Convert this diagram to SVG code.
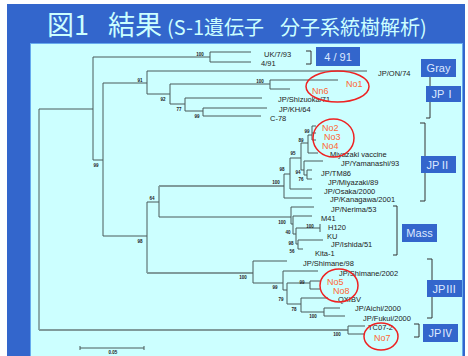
<svg xmlns="http://www.w3.org/2000/svg" width="468" height="356" viewBox="0 0 468 356">
<style>
.t{fill:none;stroke:#4a5a5a;stroke-width:1}
.k{fill:none;stroke:#7f9b9b;stroke-width:1.8}
.br{fill:none;stroke:#333;stroke-width:1}
.lf{font-family:"Liberation Sans",Arial,sans-serif;font-size:7.5px;fill:#222}
.bs{font-family:"Liberation Sans",Arial,sans-serif;font-size:4.5px;font-weight:bold;fill:#222;text-anchor:middle}
.rd{font-family:"Liberation Sans",Arial,sans-serif;font-size:9px;fill:#ff6633}
.ov{fill:none;stroke:#ee2222;stroke-width:1.5}
.bx{fill:#3366cc}
.bt{font-family:"Liberation Sans","Noto Sans CJK JP",sans-serif;font-size:11px;fill:#dde8ff;text-anchor:middle}
.ti{font-family:"Noto Sans CJK JP",sans-serif;fill:#ccffff}
</style>
<rect x="7" y="4" width="458" height="352" fill="#3366cc"/>
<rect x="30.5" y="43.5" width="432" height="313" fill="#ccffff" stroke="#66aaee" stroke-width="1"/>
<g id="title">
<text class="ti" x="47" y="35" font-size="27">図1</text>
<text class="ti" x="108" y="35" font-size="27">結果</text>
<text class="ti" x="167" y="35" font-size="20">(S-1遺伝子</text>
<text class="ti" x="280" y="35" font-size="20">分子系統樹解析)</text>
</g>
<g id="connectors">
<path class="t" d="M39,109 V330 M39,109 H93 M93,57 V160 H103 M93,57 H210 M210,52 V62 M210,52 H251 M210,62 H251"/>
<path class="t" d="M103,83 V236 H147 M103,83 H147 M147,71 V94 M147,71 H367 M147,94 H170 M170,84 V104 M170,84 H270 M270,80 V89 M270,80 H338 M270,89 H290 M170,104 H185 M185,98 V111 M185,98 H262 M185,111 H203 M203,108 V116 M203,108 H267 M203,116 H261"/>
<path class="t" d="M147,202 V273 M147,202 H159 M159,186 V217 M159,217 H291"/>
<path class="k" d="M159,186 H284 M147,273 H253 M39,330 H348"/>
<path class="t" d="M348,326 V334 M348,326 H365 M348,334 H365"/>
<path class="t" d="M284,174 V198 M284,198 H312 M284,174 H290 M290,158 V189 M290,189 H312 M290,158 H301 M301,143 V170 M301,143 H308 M301,170 H304 M304,161 V175 M304,161 H323 M304,175 H307 M307,170 V179 M307,170 H312 M307,179 H312 M308,135 V153 M308,153 H318 M308,135 H312 M312,126 V140 M312,126 H316 M312,133 H316 M312,140 H316"/>
<path class="t" d="M291,207 V224 M291,207 H314 M291,224 H293 M293,216 V234 M293,216 H312 M293,234 H296 M296,228 V244 M296,228 H320 M320,224 V232 M296,244 H298 M298,240 V249 M298,240 H323 M298,249 H303"/>
<path class="t" d="M253,261 V283 M253,261 H287 M253,283 H283 M283,271 V290 M283,271 H318 M283,290 H287 M287,283 V304 M287,283 H310 M287,304 H301 M310,281 V289 M310,281 H320 M310,289 H320 M301,298 V312 M301,298 H328 M301,312 H324 M324,308 V316 M324,308 H340 M324,316 H345"/>
<path class="t" d="M80,348 H144 M80,346 V350 M144,346 V350"/>
<path class="br" d="M306,51 H311 V64 H306 M430,77 V86 M430,102 V118 H426 M420,123 H425 V201 H420 M393,206 H397 V255 H393 M427,259 H432 V318 H427 M414,324 H419 V337 H414"/>
</g>
<g id="bootstrap">
<text class="bs" x="200" y="55.5">100</text>
<text class="bs" x="140" y="81.5">91</text>
<text class="bs" x="96" y="166.5">99</text>
<text class="bs" x="140" y="242.5">98</text>
<text class="bs" x="152" y="199.5">64</text>
<text class="bs" x="163" y="100.5">92</text>
<text class="bs" x="260" y="82.5">100</text>
<text class="bs" x="179" y="110.5">77</text>
<text class="bs" x="197" y="117.5">99</text>
<text class="bs" x="276" y="183.5">100</text>
<text class="bs" x="282" y="170.5">98</text>
<text class="bs" x="293" y="154.5">95</text>
<text class="bs" x="301" y="141.5">89</text>
<text class="bs" x="307" y="132.5">99</text>
<text class="bs" x="298" y="173.5">94</text>
<text class="bs" x="301" y="180.5">76</text>
<text class="bs" x="282" y="223.5">100</text>
<text class="bs" x="288" y="233.5">40</text>
<text class="bs" x="310" y="227.5">100</text>
<text class="bs" x="291" y="244.5">98</text>
<text class="bs" x="292" y="252.5">56</text>
<text class="bs" x="243" y="278.5">100</text>
<text class="bs" x="275" y="288.5">99</text>
<text class="bs" x="281" y="300.5">79</text>
<text class="bs" x="302" y="283.5">99</text>
<text class="bs" x="294" y="310.5">78</text>
<text class="bs" x="313" y="317.5">100</text>
<text class="bs" x="337" y="335.5">100</text>
<text class="bs" x="113" y="354">0.05</text>
</g>
<g id="leaves">
<text class="lf" x="264" y="56.7">UK/7/93</text>
<text class="lf" x="261" y="65.7">4/91</text>
<text class="lf" x="378" y="75.7">JP/ON/74</text>
<text class="lf" x="278" y="102.3">JP/Shizuoka/71</text>
<text class="lf" x="279" y="111.7">JP/KH/64</text>
<text class="lf" x="270" y="120.7">C-78</text>
<text class="lf" x="330" y="157.2">Miyazaki vaccine</text>
<text class="lf" x="341" y="165.9">JP/Yamanashi/93</text>
<text class="lf" x="321" y="175.7">JP/TM86</text>
<text class="lf" x="328" y="184.7">JP/Miyazaki/89</text>
<text class="lf" x="324" y="193.7">JP/Osaka/2000</text>
<text class="lf" x="330" y="201.7">JP/Kanagawa/2001</text>
<text class="lf" x="331" y="211.7">JP/Nerima/53</text>
<text class="lf" x="321" y="220.7">M41</text>
<text class="lf" x="328" y="229.7">H120</text>
<text class="lf" x="327" y="238.7">KU</text>
<text class="lf" x="331" y="246.7">JP/Ishida/51</text>
<text class="lf" x="315" y="255.7">Kita-1</text>
<text class="lf" x="303" y="265.7">JP/Shimane/98</text>
<text class="lf" x="339" y="275.7">JP/Shimane/2002</text>
<text class="lf" x="338" y="302.2">QXIBV</text>
<text class="lf" x="355" y="310.9">JP/Aichi/2000</text>
<text class="lf" x="363" y="320.7">JP/Fukui/2000</text>
<text class="lf" x="368" y="329.7">TC07-2</text>
</g>
<g id="samples">
<text class="rd" x="346" y="86.5">No1</text>
<text class="rd" x="312" y="94.3">Nn6</text>
<text class="rd" x="322" y="130.8">No2</text>
<text class="rd" x="324" y="140">No3</text>
<text class="rd" x="322" y="149.2">No4</text>
<text class="rd" x="327" y="285.3">No5</text>
<text class="rd" x="333" y="294">No8</text>
<text class="rd" x="374" y="340.5">No7</text>
<ellipse class="ov" cx="337.5" cy="86.5" rx="31.5" ry="15.5"/>
<ellipse class="ov" cx="333.5" cy="138" rx="20.5" ry="19"/>
<ellipse class="ov" cx="339" cy="285.5" rx="19" ry="16.5"/>
<ellipse class="ov" cx="381" cy="336.5" rx="17" ry="13.5"/>
</g>
<g id="box-491"><rect class="bx" x="316" y="47" width="44" height="19"/><text class="bt" x="338" y="60.5">4 / 91</text></g>
<g id="box-gray"><rect class="bx" x="421" y="59" width="35" height="18"/><text class="bt" x="438.5" y="72">Gray</text></g>
<g id="box-jp1"><rect class="bx" x="426" y="86" width="35" height="16"/><text class="bt" x="443.5" y="98">JPⅠ</text></g>
<g id="box-jp2"><rect class="bx" x="421" y="156" width="35" height="17"/><text class="bt" x="438.5" y="168.5">JPⅡ</text></g>
<g id="box-mass"><rect class="bx" x="402" y="224" width="35" height="18"/><text class="bt" x="419.5" y="237">Mass</text></g>
<g id="box-jp3"><rect class="bx" x="427" y="280" width="35" height="17"/><text class="bt" x="444.5" y="292.5">JPⅢ</text></g>
<g id="box-jp4"><rect class="bx" x="423" y="324" width="35" height="18"/><text class="bt" x="440.5" y="337">JPⅣ</text></g>
</svg>
